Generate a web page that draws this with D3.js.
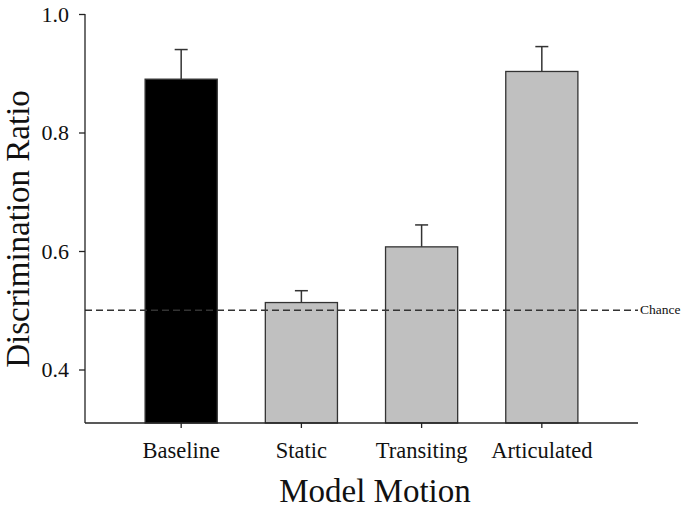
<!DOCTYPE html>
<html>
<head>
<meta charset="utf-8">
<script src="https://cdn.jsdelivr.net/npm/d3@7"></script>
<style>
  html, body { margin: 0; padding: 0; background: #fff; }
  svg { display: block; }
  text { font-family: "Liberation Serif", "Times New Roman", serif; fill: #111; }
</style>
</head>
<body>
<svg id="chart" width="685" height="509"></svg>
<script>
const categories = ["Baseline", "Static", "Transiting", "Articulated"];
const values = [0.890, 0.513, 0.607, 0.903];
const errors = [0.050, 0.020, 0.037, 0.042];
const fills = ["#000000", "#c0c0c0", "#c0c0c0", "#c0c0c0"];
const yTicks = [0.4, 0.6, 0.8, 1.0];
const chance = 0.5;
const xTitle = "Model Motion";
const yTitle = "Discrimination Ratio";
const chanceLabel = "Chance";

const svg = d3.select("#chart");
const mLeft = 85, mRight = 638, mTop = 14, axisY = 423;

const x = d3.scaleBand().domain(categories).range([mLeft, mRight])
  .paddingInner(0.4).paddingOuter(0.5);
const y = d3.scaleLinear().domain([0.4, 1.0]).range([369.5, mTop]);

// error bars
const eb = svg.append("g");
categories.forEach((c, i) => {
  const cx = x(c) + x.bandwidth() / 2;
  eb.append("line").attr("x1", cx).attr("x2", cx)
    .attr("y1", y(values[i])).attr("y2", y(values[i] + errors[i]))
    .attr("stroke", "#333").attr("stroke-width", 1.5);
  eb.append("line").attr("x1", cx - 6.5).attr("x2", cx + 6.5)
    .attr("y1", y(values[i] + errors[i])).attr("y2", y(values[i] + errors[i]))
    .attr("stroke", "#333").attr("stroke-width", 1.5);
});

// bars
svg.append("g").selectAll("rect").data(categories).join("rect")
  .attr("x", d => x(d))
  .attr("width", x.bandwidth())
  .attr("y", (d, i) => y(values[i]))
  .attr("height", (d, i) => axisY - y(values[i]))
  .attr("fill", (d, i) => fills[i])
  .attr("stroke", "#333").attr("stroke-width", 1.3);

// chance line
svg.append("line")
  .attr("x1", mLeft).attr("x2", mRight)
  .attr("y1", y(chance)).attr("y2", y(chance))
  .attr("stroke", "#333").attr("stroke-width", 1.3)
  .attr("stroke-dasharray", "7,4");

// y axis
const yAxis = svg.append("g").attr("transform", `translate(${mLeft},0)`)
  .call(d3.axisLeft(y).tickValues(yTicks).tickFormat(d3.format(".1f")).tickSize(6).tickPadding(10));
yAxis.select(".domain").remove();
yAxis.append("line").attr("x1", 0).attr("x2", 0).attr("y1", mTop).attr("y2", axisY)
  .attr("stroke", "#222").attr("stroke-width", 1.3);
yAxis.selectAll(".tick line").attr("stroke", "#222").attr("stroke-width", 1.3);
yAxis.selectAll(".tick text").attr("font-size", 22).attr("fill", "#111")
  .attr("font-family", "Liberation Serif, serif");

// x axis
const xAxis = svg.append("g").attr("transform", `translate(0,${axisY})`)
  .call(d3.axisBottom(x).tickSize(5).tickPadding(14));
xAxis.select(".domain").remove();
xAxis.append("line").attr("x1", mLeft).attr("x2", mRight).attr("y1", 0).attr("y2", 0)
  .attr("stroke", "#222").attr("stroke-width", 1.3);
xAxis.selectAll(".tick line").attr("stroke", "#222").attr("stroke-width", 1.3);
xAxis.selectAll(".tick text").attr("font-size", 22.5).attr("fill", "#111")
  .attr("font-family", "Liberation Serif, serif");

// chance label
svg.append("text").attr("x", mRight + 2).attr("y", y(chance) + 4)
  .attr("font-size", 13.5).text(chanceLabel);

// titles
svg.append("text").attr("x", 375).attr("y", 502)
  .attr("text-anchor", "middle").attr("font-size", 33).text(xTitle);
svg.append("text")
  .attr("transform", `translate(29,229) rotate(-90)`)
  .attr("text-anchor", "middle").attr("font-size", 33).text(yTitle);
</script>
</body>
</html>
